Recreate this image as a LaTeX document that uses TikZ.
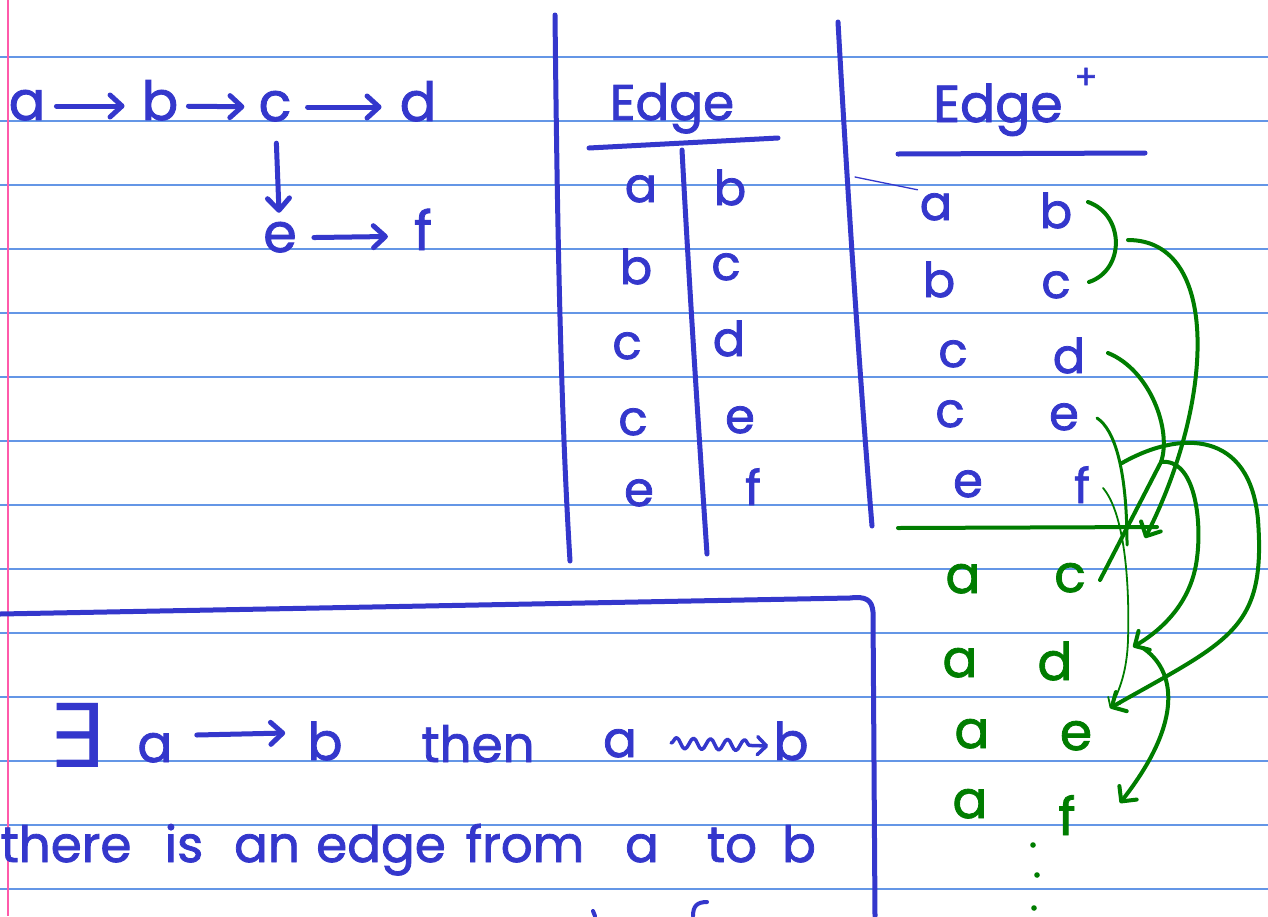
\documentclass[tikz,border=0pt]{standalone}
\usepackage{fontspec}
\usetikzlibrary{arrows.meta,decorations.pathmorphing}
\newfontfamily\hwfont{Poppins}[FakeBold=1.6]
\newfontfamily\dejafont{DejaVu Sans}
\definecolor{ink}{RGB}{52,55,204}
\definecolor{gink}{RGB}{0,125,0}
\definecolor{rulecol}{RGB}{100,150,230}
\definecolor{margincol}{RGB}{255,90,170}
\tikzset{
  ltr/.style={font={\hwfont\fontsize{#1}{#1}\selectfont}, inner sep=2pt, text height=28pt, text depth=0pt, anchor=base},
  bl/.style={ltr=#1, text=ink},
  bl/.default=48,
  gl/.style={ltr=#1, text=gink},
  gl/.default=52,
  bline/.style={ink, line width=5pt, line cap=round, line join=round},
  barr/.style={ink, line width=5pt, line cap=round, -{Straight Barb[length=12pt,width=22pt,round]}},
  gline/.style={gink, line width=4pt, line cap=round, line join=round},
  garr/.style={gline, -{Straight Barb[length=11pt,width=22pt,round]}},
}
\begin{document}
\begin{tikzpicture}[x=1pt,y=-1pt]
\useasboundingbox (0,0) rectangle (1268,916);
\fill[white] (0,0) rectangle (1268,916);
% ruled paper
\foreach \k in {0,...,13} \draw[rulecol, line width=1.4pt] (0,{57+64*\k}) -- (1268,{57+64*\k});
\draw[margincol, line width=1.6pt] (8,0) -- (8,916);

% ---------- graph ----------
\node[bl=54] (ga) at (27,120) {a};
\node[bl=54] (gb) at (160,120) {b};
\node[bl=54] (gc) at (275,121) {c};
\node[bl=54] (gd) at (418,121) {d};
\node[bl=54] (ge) at (280,252) {e};
\node[bl=54] (gf) at (423,250) {f};
\draw[barr, shorten <=9pt, shorten >=15pt] (ga) -- (gb);
\draw[barr, shorten <=8pt, shorten >=12pt] (gb) -- (gc);
\draw[barr, shorten <=14pt, shorten >=16pt] (gc) -- (gd);
\draw[barr, shorten <=20pt, shorten >=9pt] (gc) -- (ge);
\draw[barr, shorten <=15pt, shorten >=24pt] (ge) -- (gf);

% ---------- Edge table ----------
\draw[bline] (555,15) .. controls (557,200) and (560,400) .. (570,561);
\node[bl=50] (et) at (672,120) {Edge};
\draw[bline] (589,148) -- (778,138);
\draw[bline] (682,150) .. controls (690,300) and (700,450) .. (707,554);
\node[bl] (ea1) at (641,202) {a};
\node[bl] (eb1) at (730,205) {b};
\node[bl] (ea2) at (636,284) {b};
\node[bl] (eb2) at (726,280) {c};
\node[bl] (ea3) at (627,359) {c};
\node[bl] (eb3) at (729,356) {d};
\node[bl] (ea4) at (633,435) {c};
\node[bl] (eb4) at (740,433) {e};
\node[bl] (ea5) at (639,506) {e};
\node[bl] (eb5) at (753,505) {f};
\draw[bline] (838,22) .. controls (848,200) and (860,380) .. (872,526);

% ---------- Edge+ table ----------
\node[bl=52] (pt) at (998,122) {Edge};
\node[bl=34] (plus) at (1086,89) {+};
\draw[bline] (898,154) -- (1145,153);
\node[bl] (pa1) at (936,220) {a};
\node[bl] (pb1) at (1056,228) {b};
\node[bl] (pa2) at (939,297) {b};
\node[bl] (pb2) at (1056,298) {c};
\node[bl] (pa3) at (953,367) {c};
\node[bl] (pb3) at (1069,373) {d};
\node[bl] (pa4) at (950,427) {c};
\node[bl] (pb4) at (1064,430) {e};
\node[bl] (pa5) at (968,497) {e};
\node[bl] (pb5) at (1082,503) {f};
\coordinate (ts) at (855,177);
\draw[ink, line width=1.3pt, line cap=round] (ts) -- (pa1.north west);
\draw[gline] (898,528) -- (1157,527);
\node[gl] (qa1) at (963,593) {a};
\node[gl] (qb1) at (1070,592) {c};
\node[gl] (qa2) at (960,677) {a};
\node[gl] (qb2) at (1055,680) {d};
\node[gl] (qa3) at (972,748) {a};
\node[gl] (qb3) at (1076,750) {e};
\node[gl] (qa4) at (970,818) {a};
\node[gl] (qb4) at (1067,835) {f};
\coordinate (dot1) at (1033,845);
\coordinate (dot2) at (1037,875);
\coordinate (dot3) at (1034,908);
\foreach \d in {dot1,dot2,dot3} \fill[gink] (\d) circle (2.8pt);

% green derivation curves
\coordinate (br1) at (1088,202);
\coordinate (br2) at (1089,282);
\coordinate (s2a) at (1128,240);
\coordinate (act) at (1145,538);
\coordinate (s3a) at (1108,353);
\coordinate (s3m) at (1161,462);
\coordinate (s3b) at (1100,580);
\coordinate (adt) at (1133,647);
\coordinate (s5a) at (1097,418);
\coordinate (s5b) at (1127,545);
\coordinate (s7a) at (1103,488);
\coordinate (aet) at (1110,708);
\coordinate (s6a) at (1122,463);
\coordinate (s8a) at (1143,648);
\coordinate (aft) at (1120,803);
\draw[gline] (br1) .. controls (1125,215) and (1125,270) .. (br2);
\draw[garr] (s2a) .. controls (1220,240) and (1215,400) .. (act);
\draw[gline] (s3a) .. controls (1150,370) and (1172,430) .. (s3m) -- (s3b);
\draw[garr] (s3m) .. controls (1195,458) and (1202,520) .. (1197,558) .. controls (1192,600) and (1165,628) .. (adt);
\draw[gline, line width=3pt] (s5a) .. controls (1115,430) and (1127,470) .. (s5b);
\draw[gink, line width=1.8pt, line cap=round, -{Straight Barb[length=8pt,width=14pt,round]}] (s7a) .. controls (1122,510) and (1130,570) .. (1128,640) .. controls (1127,670) and (1120,690) .. (aet);
\draw[garr] (s6a) .. controls (1180,430) and (1250,430) .. (1258,520) .. controls (1266,630) and (1230,640) .. (aet);
\draw[garr] (s8a) .. controls (1175,670) and (1185,720) .. (aft);

% ---------- bottom box ----------
\draw[bline] (0,614) -- (850,598) .. controls (866,596) and (872,600) .. (873,612) -- (875,916);
\node[font={\dejafont\fontsize{88}{88}\selectfont}, text=ink, inner sep=0pt, anchor=base] (ex) at (76,767) {∃};
\node[bl=52] (xa) at (155,762) {a};
\node[bl=52] (xb) at (325,760) {b};
\draw[barr] ([yshift=13pt,xshift=22pt]xa.east) -- ([yshift=13pt,xshift=-20pt]xb.west);
\node[bl=50] (then) at (478,762) {then};
\node[bl=50] (ya) at (620,757) {a};
\node[bl=52] (yb) at (791,760) {b};
\draw[ink, line width=3.5pt, line cap=round, line join=round, decorate,
  decoration={snake, amplitude=5.5pt, segment length=17pt, post length=14pt},
  -{Straight Barb[length=9pt,width=18pt,round]}] ([xshift=32pt]ya.east) -- ([xshift=-3pt]yb.west);
\node[bl=50] (w1) at (66,862) {there};
\node[bl=50] (w2) at (184,862) {is};
\node[bl=50] (w3) at (267,862) {an};
\node[bl=50] (w4) at (381,862) {edge};
\node[bl=50] (w5) at (525,862) {from};
\node[bl=50] (w6) at (642,862) {a};
\node[bl=50] (w7) at (732,862) {to};
\node[bl=50] (w8) at (799,862) {b};
% cut-off third line
\draw[bline, line width=4pt] (593,911) -- (595,916);
\draw[bline, line width=4pt] (693,916) .. controls (693,906) and (697,902) .. (707,902);
\end{tikzpicture}
\end{document}
